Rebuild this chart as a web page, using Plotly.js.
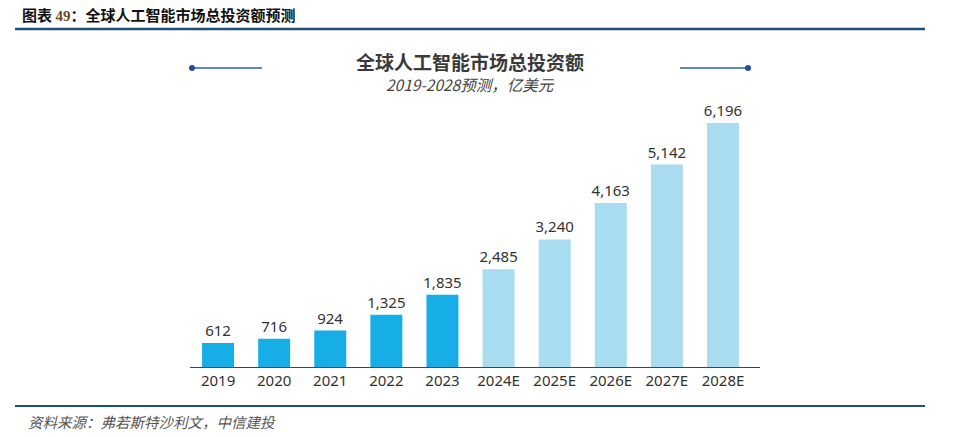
<!DOCTYPE html>
<html>
<head>
<meta charset="utf-8">
<script src="https://cdn.plot.ly/plotly-3.0.1.min.js"></script>
<style>
  html, body { margin: 0; padding: 0; background: #fff; }
  #chart { width: 960px; height: 437px; }
</style>
</head>
<body>
<div id="chart"></div>
<script>
const categories = ["2019", "2020", "2021", "2022", "2023", "2024E", "2025E", "2026E", "2027E", "2028E"];
const values = [612, 716, 924, 1325, 1835, 2485, 3240, 4163, 5142, 6196];
const barColors = ["#17aee8", "#17aee8", "#17aee8", "#17aee8", "#17aee8",
                   "#a9dcf0", "#a9dcf0", "#a9dcf0", "#a9dcf0", "#a9dcf0"];

const W = 960, H = 437;
const px = x => x / W;
const py = y => 1 - y / H;
const cjk = '"Noto Sans CJK SC", "Noto Sans", sans-serif';
const num = '"Noto Sans", "Noto Sans CJK SC", sans-serif';

const trace = {
  type: 'bar',
  x: categories,
  y: values,
  marker: { color: barColors },
  texttemplate: '%{y:,.0f}',
  textposition: 'outside',
  constraintext: 'none',
  textfont: { family: num, size: 15, color: '#333333' },
  cliponaxis: false,
  hoverinfo: 'skip'
};

const lineColor = '#2f5f9f';
const shapes = [
  { type: 'line', xref: 'paper', yref: 'paper', x0: px(15), x1: px(925), y0: py(29), y1: py(29), line: { color: '#1f4e79', width: 2.5 } },
  { type: 'line', xref: 'paper', yref: 'paper', x0: px(15), x1: px(925), y0: py(406), y1: py(406), line: { color: '#1f4e79', width: 2 } },
  { type: 'line', xref: 'paper', yref: 'paper', x0: px(192), x1: px(262), y0: py(68), y1: py(68), line: { color: lineColor, width: 1.5 } },
  { type: 'line', xref: 'paper', yref: 'paper', x0: px(680), x1: px(748), y0: py(68), y1: py(68), line: { color: lineColor, width: 1.5 } },
  { type: 'circle', xref: 'paper', yref: 'paper', x0: px(189), x1: px(195), y0: py(65), y1: py(71), fillcolor: '#1f4f9a', line: { width: 0 } },
  { type: 'circle', xref: 'paper', yref: 'paper', x0: px(745), x1: px(751), y0: py(65), y1: py(71), fillcolor: '#1f4f9a', line: { width: 0 } }
];

const annotations = [
  { xref: 'paper', yref: 'paper', x: px(20), y: py(14), xanchor: 'left', yanchor: 'middle', showarrow: false,
    text: '<b>图表 <span style="color:#6b4a1e;font-family:\'Liberation Serif\', serif">49</span>：全球人工智能市场总投资额预测</b>',
    font: { family: cjk, size: 15, color: '#111111' } },
  { xref: 'paper', yref: 'paper', x: px(470), y: py(61), xanchor: 'center', yanchor: 'middle', showarrow: false,
    text: '<b>全球人工智能市场总投资额</b>',
    font: { family: cjk, size: 19, color: '#3a3a3a' } },
  { xref: 'paper', yref: 'paper', x: px(470), y: py(84), xanchor: 'center', yanchor: 'middle', showarrow: false,
    text: '<i>2019-2028预测，亿美元</i>',
    font: { family: cjk, size: 15.5, color: '#444444' } },
  { xref: 'paper', yref: 'paper', x: px(26), y: py(421), xanchor: 'left', yanchor: 'middle', showarrow: false,
    text: '<i>资料来源：弗若斯特沙利文，中信建投</i>',
    font: { family: cjk, size: 14.5, color: '#555555' } }
];

const layout = {
  width: W, height: H,
  margin: { l: 0, r: 0, t: 0, b: 0 },
  paper_bgcolor: '#ffffff',
  plot_bgcolor: '#ffffff',
  showlegend: false,
  bargap: 0.43,
  xaxis: {
    domain: [px(190), px(760)],
    range: [-0.5, 9.66],
    type: 'category',
    showline: true, linecolor: '#444444', linewidth: 1,
    showgrid: false, zeroline: false, ticks: '',
    tickfont: { family: num, size: 15, color: '#333333' },
    fixedrange: true
  },
  yaxis: {
    domain: [py(367), py(100)],
    range: [0, 6780],
    visible: false,
    showgrid: false, zeroline: false,
    fixedrange: true
  },
  shapes: shapes,
  annotations: annotations
};

Plotly.newPlot('chart', [trace], layout, { displayModeBar: false, staticPlot: true });
</script>
</body>
</html>
